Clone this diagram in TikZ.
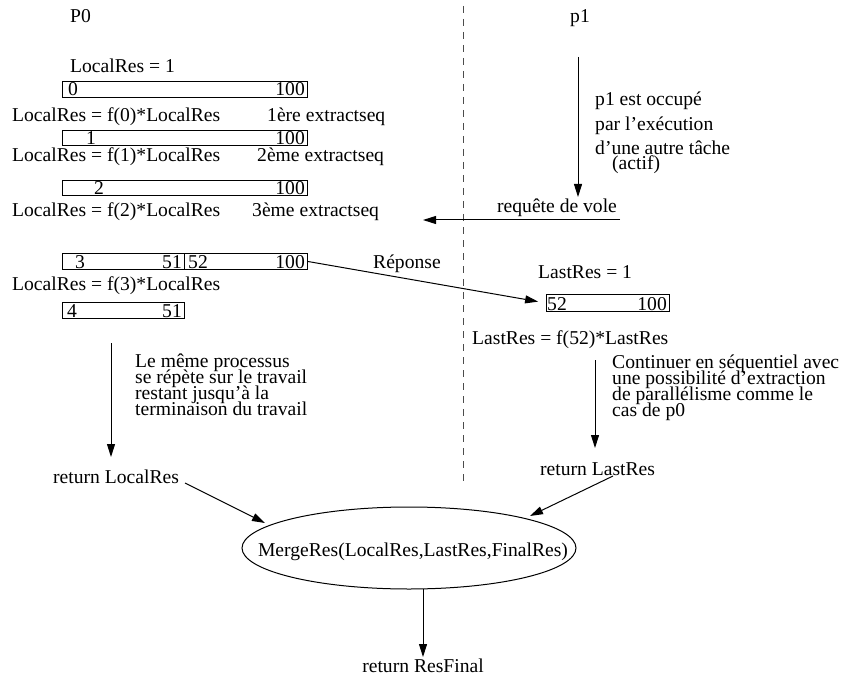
\documentclass[tikz,border=0pt]{standalone}
\usepackage{fontspec}
\setmainfont{Liberation Serif}
\usetikzlibrary{arrows.meta,shapes.geometric}
\begin{document}
\begin{tikzpicture}[x=1pt,y=-1pt,
  font=\fontsize{19.6}{20}\selectfont,
  txt/.style={anchor=base west, inner sep=0pt},
  rtxt/.style={anchor=base east, inner sep=0pt},
  ctxt/.style={anchor=base, inner sep=0pt},
  bar/.style={draw, line width=1pt, inner sep=0pt, anchor=north west},
  arr/.style={line width=1pt, -{Triangle[length=13pt,width=8pt]}},
  sep/.style={line width=1pt, black!70, dash pattern=on 7pt off 6pt}]
\useasboundingbox (0,0) rectangle (842,676);

% separator
\coordinate (sepTop) at (463,6);
\coordinate (sepBot) at (463,482);
\draw[sep] (sepTop) -- (sepBot);

% headers
\node[txt] (P0) at (70,23) {P0};
\node[txt] (p1) at (570,23) {p1};

% left column
\node[txt] (init) at (70,73) {LocalRes = 1};
\node[bar, minimum width=245pt, minimum height=16pt] (b1) at (62,81) {};
\node[txt] (b1l) at (68,96) {0};
\node[rtxt] (b1r) at (305,96) {100};

\node[txt] (f0) at (12,122) {LocalRes = f(0)*LocalRes};
\node[txt] (e1) at (267,122) {1ère extractseq};
\node[bar, minimum width=245pt, minimum height=15pt] (b2) at (62,130) {};
\node[txt] (b2l) at (86,145) {1};
\node[rtxt] (b2r) at (305,145) {100};

\node[txt] (f1) at (12,162) {LocalRes = f(1)*LocalRes};
\node[txt] (e2) at (257,162) {2ème extractseq};
\node[bar, minimum width=245pt, minimum height=15pt] (b3) at (62,180) {};
\node[txt] (b3l) at (94,195) {2};
\node[rtxt] (b3r) at (305,195) {100};

\node[txt] (f2) at (12,217) {LocalRes = f(2)*LocalRes};
\node[txt] (e3) at (252,217) {3ème extractseq};

\node[bar, minimum width=122pt, minimum height=16pt] (b4a) at (62,253) {};
\node[bar, minimum width=123pt, minimum height=16pt] (b4b) at (184,253) {};
\node[txt] (b4al) at (75,268) {3};
\node[rtxt] (b4ar) at (182,268) {51};
\node[txt] (b4bl) at (188,268) {52};
\node[rtxt] (b4br) at (305,268) {100};

\node[txt] (f3) at (12,290) {LocalRes = f(3)*LocalRes};
\node[bar, minimum width=122pt, minimum height=16pt] (b5) at (62,302) {};
\node[txt] (b5l) at (67,317) {4};
\node[rtxt] (b5r) at (182,317) {51};

% left descending arrow and comment
\coordinate (lTop) at (111,343);
\coordinate (lBot) at (111,457);
\draw[arr] (lTop) -- (lBot);
\node[txt] (c1) at (135,367) {Le même processus};
\node[txt] (c2) at (135,383) {se répète sur le travail};
\node[txt] (c3) at (135,399) {restant jusqu’à la};
\node[txt] (c4) at (135,415) {terminaison du travail};
\node[txt] (retL) at (53,483) {return LocalRes};

% right column
\coordinate (rTop) at (578,57);
\coordinate (rBot) at (578,197);
\draw[arr] (rTop) -- (rBot);
\node[txt] (o1) at (595,106) {p1 est occupé};
\node[txt] (o2) at (595,131) {par l’exécution};
\node[txt] (o3) at (595,155) {d’une autre tâche};
\node[txt] (o4) at (612,170) {(actif)};

\coordinate (rqStart) at (620,220);
\coordinate (rqEnd) at (423,220);
\draw[arr] (rqStart) -- (rqEnd);
\node[txt] (rq) at (497,212) {requête de vole};

\node[txt] (last1) at (538,278) {LastRes = 1};
\node[bar, minimum width=123pt, minimum height=17pt] (bR) at (546,294) {};
\node[txt] (bRl) at (547,310) {52};
\node[rtxt] (bRr) at (667,310) {100};
\draw[arr, shorten >=8pt] (b4b.east) -- (bR.west);
\node[txt] (rep) at (373,268) {Réponse};

\node[txt] (lastf) at (472,344) {LastRes = f(52)*LastRes};
\coordinate (r2Top) at (595,360);
\coordinate (r2Bot) at (595,448);
\draw[arr] (r2Top) -- (r2Bot);
\node[txt] (d1) at (612,368) {Continuer en séquentiel avec};
\node[txt] (d2) at (612,384) {une possibilité d’extraction};
\node[txt] (d3) at (612,400) {de parallélisme comme le};
\node[txt] (d4) at (612,416) {cas de p0};
\node[txt] (retR) at (540,475) {return LastRes};

% merge
\node[ellipse, draw, line width=1pt, inner sep=0pt, minimum width=334pt, minimum height=82pt] (merge) at (409,548) {};
\node[ctxt] (mergeT) at (413,556) {MergeRes(LocalRes,LastRes,FinalRes)};
\coordinate (mL1) at (185,483);
\coordinate (mL2) at (265,523);
\draw[arr] (mL1) -- (mL2);
\coordinate (mR1) at (613,476);
\coordinate (mR2) at (530,516);
\draw[arr] (mR1) -- (mR2);
\coordinate (mD1) at (423,589);
\coordinate (mD2) at (423,657);
\draw[arr] (mD1) -- (mD2);
\node[ctxt] (retF) at (423,672) {return ResFinal};
\end{tikzpicture}
\end{document}
